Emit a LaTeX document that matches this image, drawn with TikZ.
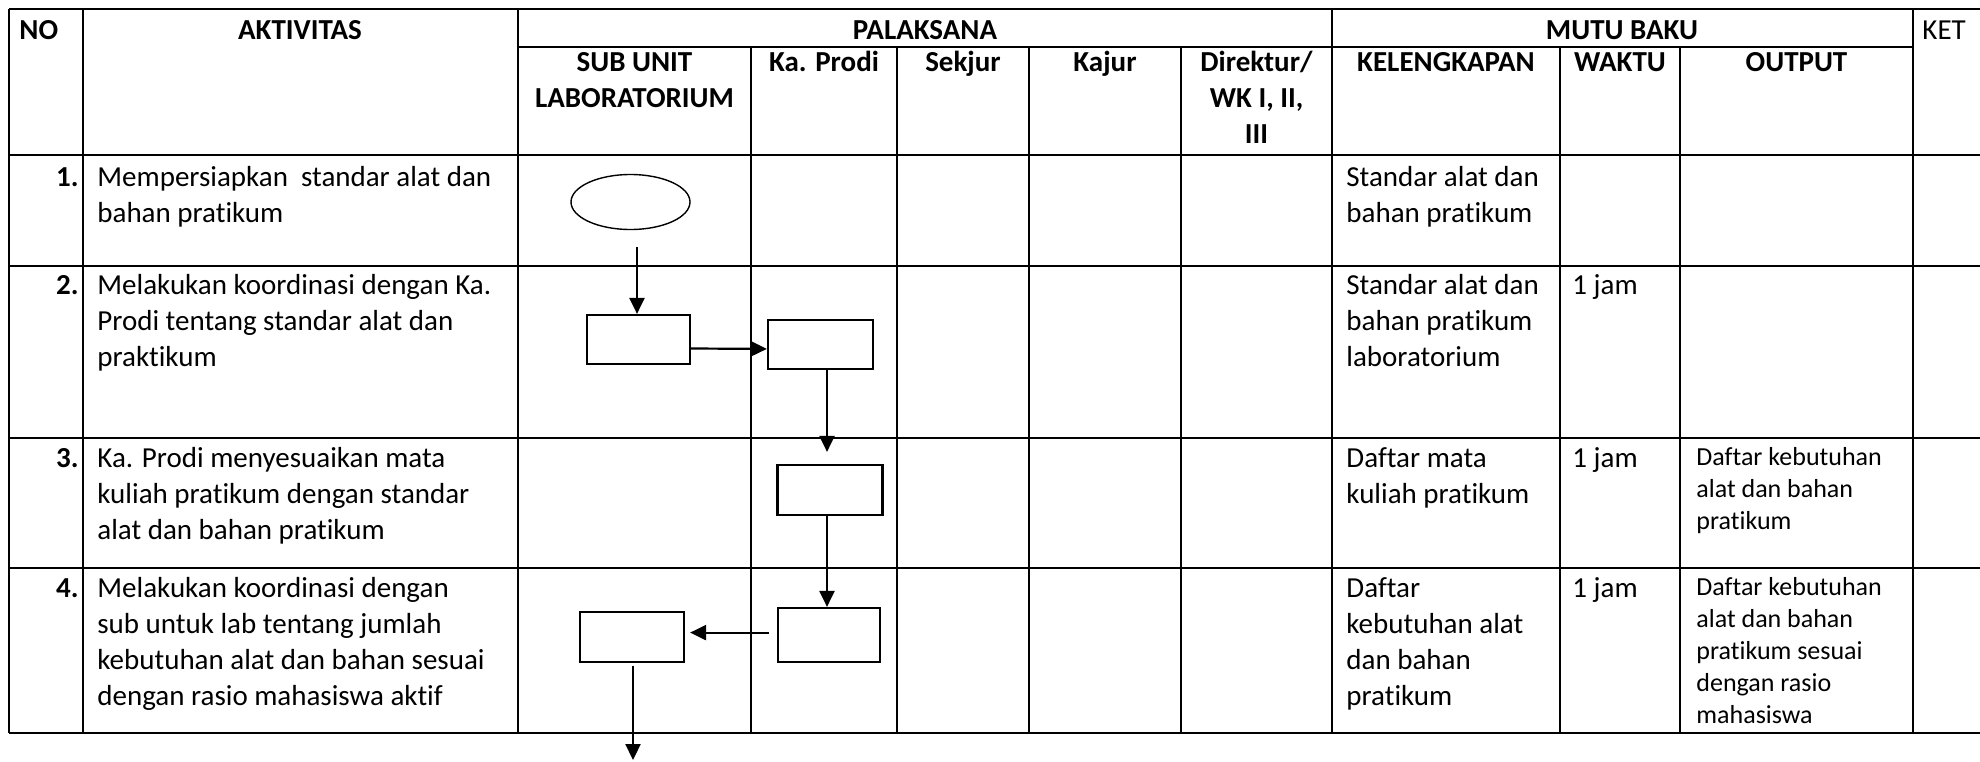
\documentclass[tikz,border=0pt]{standalone}
\usepackage{fontspec}
\setmainfont{Carlito}[Ligatures=NoCommon]
\usetikzlibrary{arrows.meta,shapes.geometric}
\newcommand{\isi}{\fontsize{14.5}{18}\selectfont}
\newcommand{\isikecil}{\fontsize{13}{16}\selectfont}
\tikzset{
  garis/.style={line width=1.1pt},
  kotak/.style={draw, line width=1.1pt, minimum width=51.5pt, minimum height=24.5pt, inner sep=0pt},
  alur/.style={line width=1.1pt, -{Triangle[length=8pt,width=7.5pt]}},
  sel/.style={anchor=north west, inner sep=0pt, align=left, font=\isi},
  judul/.style={anchor=north, inner sep=0pt, align=center, font=\isi\bfseries},
  nomor/.style={anchor=north east, inner sep=0pt, font=\isi\bfseries}
}
\begin{document}
\begin{tikzpicture}[x=0.5pt,y=-0.5pt]
\useasboundingbox (0,0) rectangle (1980,761);

\draw[garis] (9,9) -- (1990,9);
\draw[garis] (518,47) -- (1913,47);
\draw[garis] (9,155) -- (1990,155);
\foreach \y in {266,438,568,733} \draw[garis] (9,\y) -- (1990,\y);
\foreach \x in {9,83,518,1332,1913} \draw[garis] (\x,9) -- (\x,733);
\foreach \x in {751,897,1029,1181,1560,1680} \draw[garis] (\x,47) -- (\x,733);

\node[sel,font=\isi\bfseries] (no) at (19,14) {\strut NO};
\node[judul] (aktivitas) at (300,14) {\strut AKTIVITAS};
\node[judul] (palaksana) at (925,14) {\strut PALAKSANA};
\node[judul] (mutubaku) at (1622,14) {\strut MUTU BAKU};
\node[sel] (ket) at (1922,14) {\strut KET};

\node[judul] (subunit) at (634.5,46) {\strut SUB UNIT\\LABORATORIUM};
\node[judul] (kaprodi) at (824,46) {\strut Ka. Prodi};
\node[judul] (sekjur) at (963,46) {\strut Sekjur};
\node[judul] (kajur) at (1105,46) {\strut Kajur};
\node[judul] (direktur) at (1256.5,46) {\strut Direktur/\\WK I, II,\\III};
\node[judul] (kelengkapan) at (1446,46) {\strut KELENGKAPAN};
\node[judul] (waktu) at (1620,46) {\strut WAKTU};
\node[judul] (output) at (1796.5,46) {\strut OUTPUT};

\node[nomor] (n1) at (79,161) {\strut 1.};
\node[nomor] (n2) at (79,269) {\strut 2.};
\node[nomor] (n3) at (79,442) {\strut 3.};
\node[nomor] (n4) at (79,572) {\strut 4.};

\node[sel] (akt1) at (97,161) {\strut Mempersiapkan\ \ standar alat dan\\bahan pratikum};
\node[sel] (akt2) at (97,269) {\strut Melakukan koordinasi dengan Ka.\\Prodi tentang standar alat dan\\praktikum};
\node[sel] (akt3) at (97,442) {\strut Ka. Prodi menyesuaikan mata\\kuliah pratikum dengan standar\\alat dan bahan pratikum};
\node[sel] (akt4) at (97,572) {\strut Melakukan koordinasi dengan\\sub untuk lab tentang jumlah\\kebutuhan alat dan bahan sesuai\\dengan rasio mahasiswa aktif};

\node[sel] (kel1) at (1346,161) {\strut Standar alat dan\\bahan pratikum};
\node[sel] (kel2) at (1346,269) {\strut Standar alat dan\\bahan pratikum\\laboratorium};
\node[sel] (kel3) at (1346,442) {\strut Daftar mata\\kuliah pratikum};
\node[sel] (kel4) at (1346,572) {\strut Daftar\\kebutuhan alat\\dan bahan\\pratikum};

\node[sel] (wkt2) at (1572,269) {\strut 1 jam};
\node[sel] (wkt3) at (1572,442) {\strut 1 jam};
\node[sel] (wkt4) at (1572,572) {\strut 1 jam};

\node[sel,font=\isikecil] (out3) at (1696,443) {\strut Daftar kebutuhan\\alat dan bahan\\pratikum};
\node[sel,font=\isikecil] (out4) at (1696,573) {\strut Daftar kebutuhan\\alat dan bahan\\pratikum sesuai\\dengan rasio\\mahasiswa};

\node[ellipse, draw, line width=0.7pt, minimum width=59.5pt, minimum height=27.5pt, inner sep=0pt] (mulai) at (630.5,202) {};
\node[kotak] (k1) at (638.5,339.5) {};
\node[kotak, minimum width=52.5pt] (k2) at (820.5,344.5) {};
\node[kotak, minimum width=52.5pt, minimum height=25pt] (k3) at (830,490) {};
\node[kotak, minimum width=51pt, minimum height=27pt] (k5) at (829,635) {};
\node[kotak, minimum width=52pt, minimum height=25pt] (k4) at (632,637) {};

\coordinate (a0) at (637,247);
\coordinate (akhir) at (633,760);
\draw[alur] (a0) -- (a0 |- k1.north);
\draw[alur] ([yshift=-4.5pt]k1.east) -- ([yshift=-2.2pt]k2.west);
\draw[alur] ([xshift=3.25pt]k2.south) -- ([xshift=-1.5pt,yshift=6pt]k3.north);
\draw[alur] ([xshift=-1.5pt]k3.south) -- ([xshift=-1pt]k5.north);
\draw[alur] ([xshift=-4pt,yshift=1.2pt]k5.west) -- ([xshift=2.5pt,yshift=2.2pt]k4.east);
\draw[alur, shorten <=1.5pt] (akhir |- k4.south) -- (akhir);

\end{tikzpicture}
\end{document}
